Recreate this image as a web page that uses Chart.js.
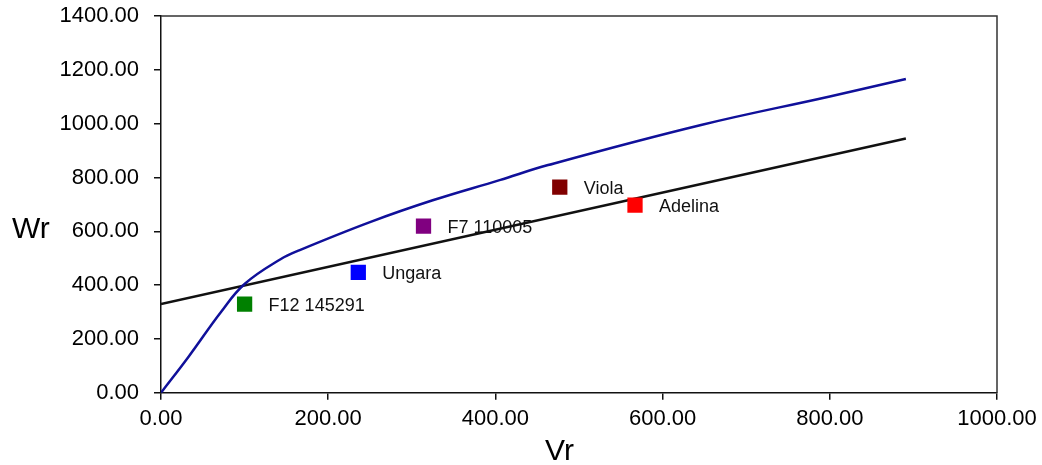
<!DOCTYPE html>
<html>
<head>
<meta charset="utf-8">
<script src="https://cdn.jsdelivr.net/npm/chart.js@4/dist/chart.umd.min.js"></script>
<style>
  html, body { margin: 0; padding: 0; background: #ffffff; }
  #wrap { width: 1042px; height: 465px; position: relative; }
</style>
</head>
<body>
<div id="wrap"><canvas id="c" width="1042" height="465"></canvas></div>
<script>
// ---- data ----
const curveX = [0, 33, 72, 100, 143, 166, 250, 325, 405, 463, 646, 800, 891];
const curveY = [0, 134, 301, 404, 496, 530, 634, 715, 790, 846, 995, 1101, 1166];
const lineX = [0, 891];
const lineY = [330, 945];
const varietyNames = ['F12 145291', 'Ungara', 'F7 110005', 'Viola', 'Adelina'];
const varietyX = [100, 236, 314, 477, 567];
const varietyY = [329, 447, 619, 764, 697];
const varietyColors = ['#008000', '#0000ff', '#800080', '#800000', '#ff0000'];
const xTicks = [0, 200, 400, 600, 800, 1000];
const yTicks = [0, 200, 400, 600, 800, 1000, 1200, 1400];
const xTitle = 'Vr';
const yTitle = 'Wr';

const FONT = '"Liberation Sans", Arial, sans-serif';

const toPts = (xs, ys) => xs.map((x, i) => ({ x: x, y: ys[i] }));

const framePlugin = {
  id: 'frame',
  afterDraw(chart) {
    const { ctx, chartArea: a, scales } = chart;
    ctx.save();
    ctx.strokeStyle = '#333333';
    ctx.lineWidth = 1.5;
    ctx.beginPath();
    ctx.moveTo(a.left, a.top);
    ctx.lineTo(a.right, a.top);
    ctx.lineTo(a.right, a.bottom);
    ctx.stroke();
    ctx.fillStyle = '#111111';
    ctx.font = '18px ' + FONT;
    ctx.textAlign = 'left';
    ctx.textBaseline = 'alphabetic';
    varietyNames.forEach((n, i) => {
      const px = scales.x.getPixelForValue(varietyX[i]);
      const py = scales.y.getPixelForValue(varietyY[i]);
      ctx.fillText(n, px + 24, py + 7);
    });
    ctx.fillStyle = '#000000';
    ctx.font = '30px ' + FONT;
    ctx.fillText(yTitle, 12, 238);
    ctx.fillText(xTitle, 545, 460);
    ctx.restore();
  }
};

const tickCb = v => Number(v).toFixed(2);

new Chart(document.getElementById('c'), {
  type: 'scatter',
  data: {
    datasets: [
      {
        label: 'curve',
        data: toPts(curveX, curveY),
        showLine: true,
        borderColor: '#10109a',
        borderWidth: 2.5,
        pointRadius: 0,
        tension: 0.4,
        order: 2
      },
      {
        label: 'line',
        data: toPts(lineX, lineY),
        showLine: true,
        borderColor: '#111111',
        borderWidth: 2.5,
        pointRadius: 0,
        order: 3
      },
      {
        label: 'varieties',
        data: toPts(varietyX, varietyY),
        showLine: false,
        pointStyle: 'rect',
        pointRadius: 10.8,
        pointHoverRadius: 10.8,
        pointBackgroundColor: varietyColors,
        pointBorderColor: varietyColors,
        pointBorderWidth: 0,
        order: 1
      }
    ]
  },
  options: {
    responsive: false,
    animation: false,
    devicePixelRatio: 1,
    layout: { padding: { top: 16, right: 45, left: 0, bottom: 0 } },
    plugins: {
      legend: { display: false },
      tooltip: { enabled: false }
    },
    scales: {
      x: {
        type: 'linear',
        min: 0, max: 1000,
        afterBuildTicks: s => { s.ticks = xTicks.map(v => ({ value: v })); },
        afterFit: s => { s.height = 72.3; s.paddingLeft = 0; s.paddingRight = 0; },
        ticks: {
          callback: tickCb,
          color: '#000000',
          font: { family: FONT, size: 22 },
          padding: 6,
          maxRotation: 0,
          autoSkip: false
        },
        grid: {
          drawOnChartArea: false,
          drawTicks: true,
          tickLength: 7,
          color: '#111111',
          lineWidth: 1.5
        },
        border: { display: true, color: '#111111', width: 1.5 }
      },
      y: {
        type: 'linear',
        min: 0, max: 1400,
        afterBuildTicks: s => { s.ticks = yTicks.map(v => ({ value: v })); },
        afterFit: s => { s.width = 161; s.paddingTop = 0; s.paddingBottom = 0; },
        ticks: {
          callback: tickCb,
          color: '#000000',
          font: { family: FONT, size: 22 },
          padding: 15,
          autoSkip: false
        },
        grid: {
          drawOnChartArea: false,
          drawTicks: true,
          tickLength: 7,
          color: '#111111',
          lineWidth: 1.5
        },
        border: { display: true, color: '#111111', width: 1.5 }
      }
    }
  },
  plugins: [framePlugin]
});
</script>
</body>
</html>
